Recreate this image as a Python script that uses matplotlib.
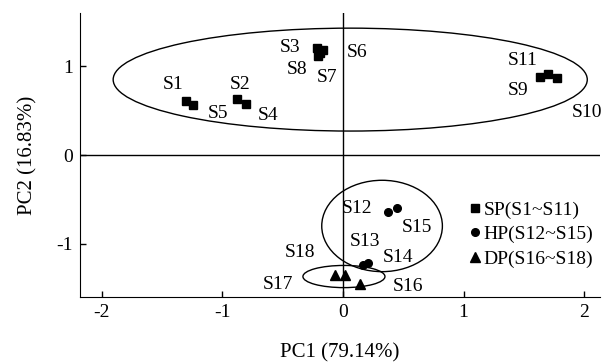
import matplotlib.pyplot as plt
from matplotlib.patches import Ellipse

plt.rcParams['font.family'] = ['Liberation Serif', 'DejaVu Serif']
plt.rcParams['font.size'] = 14
plt.rcParams['axes.unicode_minus'] = False

# scores
sp_names = ['S1', 'S5', 'S2', 'S4', 'S3', 'S6', 'S7', 'S8', 'S9', 'S10', 'S11']
sp_x = [-1.30, -1.245, -0.88, -0.805, -0.216, -0.166, -0.207, -0.19, 1.635, 1.776, 1.70]
sp_y = [0.61, 0.56, 0.63, 0.57, 1.21, 1.18, 1.12, 1.15, 0.876, 0.865, 0.91]

hp_names = ['S12', 'S15', 'S13', 'S14']
hp_x = [0.373, 0.448, 0.166, 0.207]
hp_y = [-0.64, -0.596, -1.236, -1.213]

dp_names = ['S18', 'S17', 'S16']
dp_x = [0.017, -0.066, 0.141]
dp_y = [-1.35, -1.35, -1.45]

# label positions
lab_names = ['S1', 'S5', 'S2', 'S4', 'S3', 'S8', 'S7', 'S6', 'S11', 'S9', 'S10',
             'S12', 'S15', 'S13', 'S14', 'S18', 'S17', 'S16']
lab_x = [-1.41, -1.04, -0.85, -0.62, -0.44, -0.38, -0.13, 0.12, 1.49, 1.45, 2.02,
         0.12, 0.61, 0.18, 0.46, -0.36, -0.54, 0.54]
lab_y = [0.79, 0.47, 0.79, 0.45, 1.21, 0.96, 0.87, 1.15, 1.07, 0.73, 0.48,
         -0.60, -0.82, -0.98, -1.15, -1.10, -1.46, -1.48]

# confidence ellipses: centre x, centre y, width, height
ell_cx = [0.06, 0.324, 0.008]
ell_cy = [0.85, -0.80, -1.37]
ell_w = [3.93, 1.0, 0.68]
ell_h = [1.16, 1.03, 0.25]

fig = plt.figure(figsize=(6.06, 3.63), dpi=100)
ax = fig.add_axes([0.132, 0.182, 0.858, 0.782])

ax.axhline(0, color='black', lw=1)
ax.axvline(0, color='black', lw=1)

for cx, cy, w, h in zip(ell_cx, ell_cy, ell_w, ell_h):
    ax.add_patch(Ellipse((cx, cy), w, h, fill=False, edgecolor='black', lw=1))

ax.plot(sp_x, sp_y, 's', color='black', ms=5.5, label='SP(S1~S11)')
ax.plot(hp_x, hp_y, 'o', color='black', ms=5.5, label='HP(S12~S15)')
ax.plot(dp_x, dp_y, '^', color='black', ms=6.5, label='DP(S16~S18)')

for n, x, y in zip(lab_names, lab_x, lab_y):
    ax.text(x, y, n, ha='center', va='center', fontsize=14)

ax.set_xlim(-2.18, 2.13)
ax.set_ylim(-1.6, 1.6)
ax.set_xticks([-2, -1, 0, 1, 2])
ax.set_yticks([-1, 0, 1])
ax.tick_params(direction='in', length=4, width=1, labelsize=14, pad=5)
ax.spines['top'].set_visible(False)
ax.spines['right'].set_visible(False)

ax.set_xlabel('PC1 (79.14%)', fontsize=15, labelpad=16)
ax.set_ylabel('PC2 (16.83%)', fontsize=15, labelpad=14)

ax.legend(loc='center left', bbox_to_anchor=(0.73, 0.22), frameon=False,
          handletextpad=0.05, handlelength=0.8, labelspacing=0.35, fontsize=14,
          borderaxespad=0)

fig.savefig('out.png', dpi=100)
